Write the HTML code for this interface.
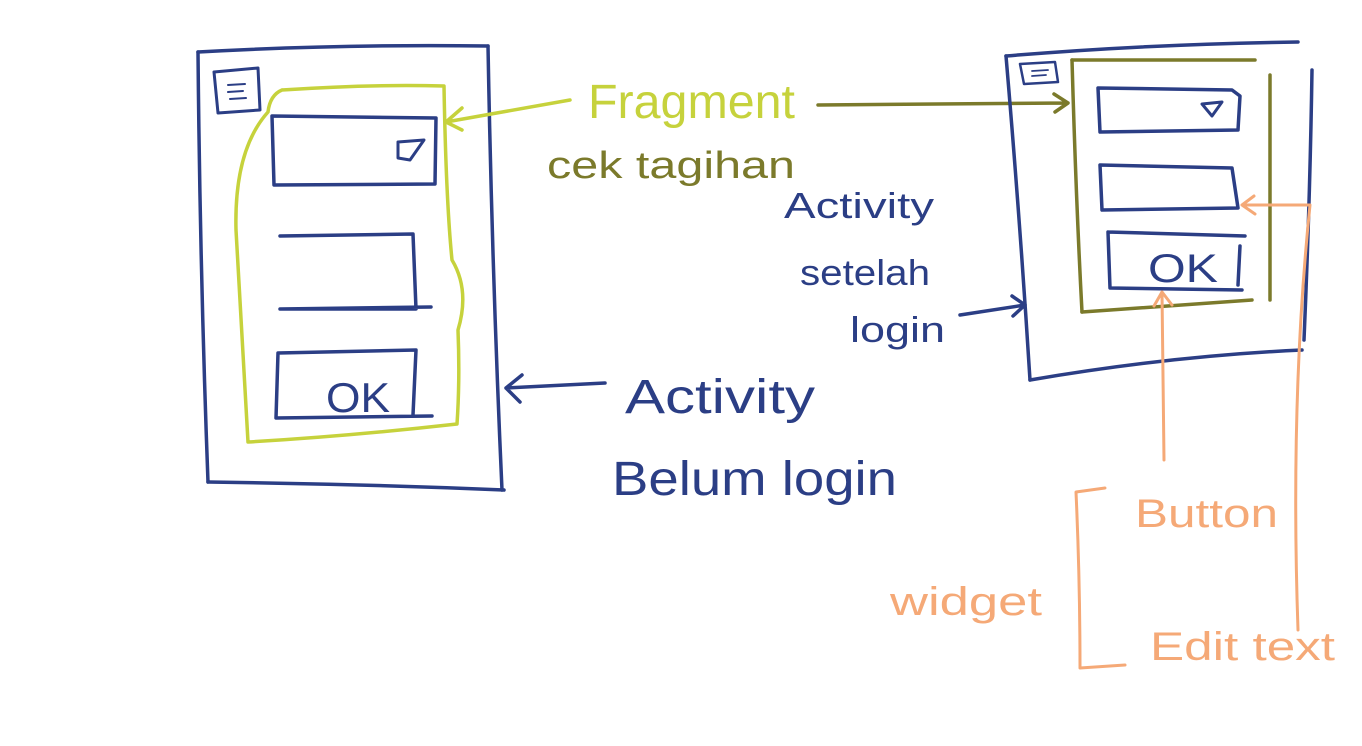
<!DOCTYPE html>
<html><head><meta charset="utf-8"><style>
html,body{margin:0;padding:0;background:#fff;}
svg{display:block}
text{font-family:"Liberation Sans",sans-serif;}
</style></head><body>
<svg width="1362" height="746" viewBox="0 0 1362 746" xmlns="http://www.w3.org/2000/svg">
<g fill="none" stroke-linecap="round" stroke-linejoin="round">
<g stroke="#2b3e85" stroke-width="3.5">
<path d="M198 52 Q340 44 488 46"/>
<path d="M198 52 Q200 270 208 482"/>
<path d="M208 482 Q360 484 504 490"/>
<path d="M488 46 Q492 270 502 490"/>
<path d="M214 72 L258 68 L260 110 L218 113 Z" stroke-width="3"/>
<path d="M228 85 L245 84 M228 92 L243 91 M230 99 L246 98" stroke-width="2"/>
<path d="M272 116 L436 118 L435 184 L274 185 Z"/>
<path d="M398 142 L424 140 L410 160 L398 158 Z" stroke-width="3"/>
<path d="M280 236 L413 234 L416 309 L280 309 L431 307"/>
<path d="M278 353 L416 350 L413 415 M278 353 L276 418 L432 416"/>
<path d="M605 383 L506 388 M522 375 L506 388 L520 402"/>
</g>
<path d="M282 90 Q370 84 444 86 Q446 200 452 260 Q470 290 458 330 Q460 380 457 424 Q350 436 248 442 Q240 300 236 230 Q234 150 268 112 Q270 95 282 90" stroke="#c6d23c" stroke-width="3.5"/>
<path d="M570 100 L446 122 M462 108 L446 122 L462 130" stroke="#c6d23c" stroke-width="3.5"/>
<path d="M818 105 L1068 103 M1054 94 L1068 103 L1055 112" stroke="#7b7a2b" stroke-width="3.5"/>
<g stroke="#2b3e85" stroke-width="3.5">
<path d="M1006 56 Q1150 44 1298 42"/>
<path d="M1006 56 Q1020 220 1030 380"/>
<path d="M1030 380 Q1170 356 1302 350"/>
<path d="M1312 70 Q1310 200 1304 340"/>
<path d="M1020 64 L1055 62 L1058 82 L1024 84 Z" stroke-width="2.5"/>
<path d="M1032 71 L1048 70 M1032 76 L1046 75" stroke-width="1.8"/>
<path d="M1098 88 L1232 90 L1240 96 L1238 130 L1100 132 Z"/>
<path d="M1202 104 L1222 102 L1212 116 Z" stroke-width="3"/>
<path d="M1100 165 L1232 168 L1238 208 L1102 210 Z"/>
<path d="M1108 232 L1245 236 M1108 232 L1110 288 L1242 290 M1240 246 L1238 285"/>
<path d="M960 315 L1025 305 M1012 296 L1025 305 L1013 316"/>
</g>
<g stroke="#7b7a2b" stroke-width="3.5">
<path d="M1072 60 L1255 60"/>
<path d="M1072 60 Q1076 200 1082 312"/>
<path d="M1082 312 L1252 300"/>
<path d="M1270 75 L1270 300"/>
</g>
<g stroke="#f5a977" stroke-width="3">
<path d="M1164 460 L1162 292 M1154 306 L1162 292 L1172 305"/>
<path d="M1298 630 Q1290 400 1310 205 L1242 205 M1254 196 L1242 205 L1255 214"/>
<path d="M1105 488 L1076 492 Q1080 580 1080 668 L1125 665"/>
</g>
</g>
<g fill="#2b3e85">
<text x="326" y="412" font-size="42" textLength="64" lengthAdjust="spacingAndGlyphs">OK</text>
<text x="1148" y="282" font-size="40" textLength="70" lengthAdjust="spacingAndGlyphs">OK</text>
<text x="625" y="413" font-size="48" textLength="190" lengthAdjust="spacingAndGlyphs">Activity</text>
<text x="612" y="495" font-size="48" textLength="285" lengthAdjust="spacingAndGlyphs">Belum login</text>
<text x="784" y="218" font-size="36" textLength="150" lengthAdjust="spacingAndGlyphs">Activity</text>
<text x="800" y="285" font-size="36" textLength="130" lengthAdjust="spacingAndGlyphs">setelah</text>
<text x="850" y="342" font-size="36" textLength="95" lengthAdjust="spacingAndGlyphs">login</text>
</g>
<text x="588" y="118" font-size="48" fill="#c6d23c" textLength="207" lengthAdjust="spacingAndGlyphs">Fragment</text>
<text x="547" y="178" font-size="38" fill="#7b7a2b" textLength="248" lengthAdjust="spacingAndGlyphs">cek tagihan</text>
<g font-size="40" fill="#f5a977">
<text x="1135" y="527" textLength="143" lengthAdjust="spacingAndGlyphs">Button</text>
<text x="890" y="615" textLength="152" lengthAdjust="spacingAndGlyphs">widget</text>
<text x="1150" y="660" textLength="185" lengthAdjust="spacingAndGlyphs">Edit text</text>
</g>
</svg>
</body></html>
